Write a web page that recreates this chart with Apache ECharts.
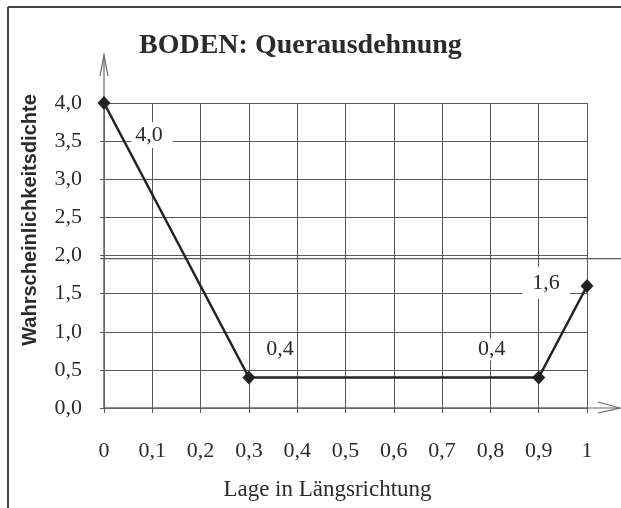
<!DOCTYPE html>
<html>
<head>
<meta charset="utf-8">
<title>BODEN: Querausdehnung</title>
<script src="https://cdn.jsdelivr.net/npm/echarts@6/dist/echarts.min.js"></script>
<style>
  html, body { margin: 0; padding: 0; background: #fff; }
  #chart { width: 621px; height: 508px; }
</style>
</head>
<body>
<div id="chart"></div>
<script>
// Lage in Längsrichtung (x) und Wahrscheinlichkeitsdichte (y)
const lage = [0, 0.3, 0.9, 1.0]
const dichte = [4.0, 0.4, 0.4, 1.6]
const xTickLabels = ['0', '0,1', '0,2', '0,3', '0,4', '0,5', '0,6', '0,7', '0,8', '0,9', '1']
const yTickLabels = ['0,0', '0,5', '1,0', '1,5', '2,0', '2,5', '3,0', '3,5', '4,0']

// wo die Wertbeschriftungen neben den Punkten sitzen
const labelOffsets = [[48, 32], [31, -28], [-47, -28], [-41, -3]]
const labelPadding = [[2, 10, 2, 4], [0, 3], [0, 3], [5, 10]]

const serif = 'Liberation Serif'
const ink = '#2b2b2b'
const gridColor = '#585858'

const chart = echarts.init(document.getElementById('chart'))

const option = {
  backgroundColor: '#fff',
  animation: false,
  title: {
    text: 'BODEN: Querausdehnung',
    left: 134,
    top: 27,
    textStyle: {
      fontFamily: serif,
      fontWeight: 'bold',
      fontSize: 28,
      color: ink
    }
  },
  grid: {
    left: 104,
    right: 34,
    top: 103,
    bottom: 100,
    containLabel: false,
    outerBoundsMode: 'none'
  },
  xAxis: {
    type: 'value',
    min: 0,
    max: 1,
    interval: 0.1,
    name: 'Lage in Längsrichtung',
    nameLocation: 'middle',
    nameGap: 70,
    nameTextStyle: {
      fontFamily: serif,
      fontSize: 23,
      color: ink,
      padding: [0, 36, 0, 0]
    },
    axisLine: { lineStyle: { color: '#666', width: 1.5 } },
    axisTick: { show: true, length: 5, lineStyle: { color: gridColor } },
    axisLabel: {
      margin: 32,
      fontFamily: serif,
      fontSize: 22,
      color: ink,
      formatter: function(v) {
        return xTickLabels[Math.round(v * 10)]
      }
    },
    splitLine: { show: true, lineStyle: { color: gridColor, width: 1 } }
  },
  yAxis: {
    type: 'value',
    min: 0,
    max: 4,
    interval: 0.5,
    name: 'Wahrscheinlichkeitsdichte',
    nameLocation: 'middle',
    nameGap: 64,
    nameTextStyle: {
      fontFamily: 'Liberation Sans',
      fontWeight: 'bold',
      fontSize: 20,
      color: ink,
      padding: [0, 0, 0, 71]
    },
    axisLine: { show: true, lineStyle: { color: '#666', width: 1.5 } },
    axisTick: { show: true, length: 4, lineStyle: { color: gridColor } },
    axisLabel: {
      margin: 22,
      fontFamily: serif,
      fontSize: 22,
      color: ink,
      formatter: function(v) {
        return yTickLabels[Math.round(v * 2)]
      }
    },
    splitLine: { show: true, lineStyle: { color: gridColor, width: 1 } }
  },
  series: [
    {
      type: 'line',
      data: lage.map((x, i) => ({
        value: [x, dichte[i]],
        label: { offset: labelOffsets[i], padding: labelPadding[i] }
      })),
      symbol: 'diamond',
      symbolSize: [13, 14],
      itemStyle: { color: '#222' },
      lineStyle: { color: '#222', width: 2.5 },
      label: {
        show: true,
        position: 'inside',
        fontFamily: serif,
        fontSize: 22,
        color: ink,
        backgroundColor: '#fff',
        formatter: function(p) {
          return p.value[1].toFixed(1).replace('.', ',')
        }
      },
      z: 5
    }
  ]
}

chart.setOption(option)

// Pfeile an den Achsen, Rahmen und die zweite Linie bei 2,0 (wie im Original)
const origin = chart.convertToPixel({ gridIndex: 0 }, [0, 0])
const yTop = chart.convertToPixel({ gridIndex: 0 }, [0, 4])
const xEnd = chart.convertToPixel({ gridIndex: 0 }, [1, 0])
const doubleY = chart.convertToPixel({ gridIndex: 0 }, [0, 1.96])[1]
const stroke = { stroke: '#666', lineWidth: 1.2, fill: null }

chart.setOption({
  graphic: [
    { type: 'line', shape: { x1: yTop[0], y1: yTop[1], x2: yTop[0], y2: 55 }, style: stroke },
    { type: 'polyline', shape: { points: [[yTop[0] - 4, 76], [yTop[0], 55], [yTop[0] + 4, 76]] }, style: stroke },
    { type: 'line', shape: { x1: xEnd[0], y1: xEnd[1], x2: 620, y2: xEnd[1] }, style: stroke },
    { type: 'polyline', shape: { points: [[598, xEnd[1] - 6], [620, xEnd[1]], [598, xEnd[1] + 5]] }, style: stroke },
    { type: 'line', shape: { x1: origin[0] - 4, y1: doubleY, x2: 621, y2: doubleY }, style: { stroke: gridColor, lineWidth: 1.2 } },
    { type: 'line', shape: { x1: 8, y1: 7, x2: 621, y2: 7 }, style: { stroke: '#444', lineWidth: 2 } },
    { type: 'line', shape: { x1: 8, y1: 7, x2: 8, y2: 508 }, style: { stroke: '#444', lineWidth: 2 } }
  ]
})
</script>
</body>
</html>
